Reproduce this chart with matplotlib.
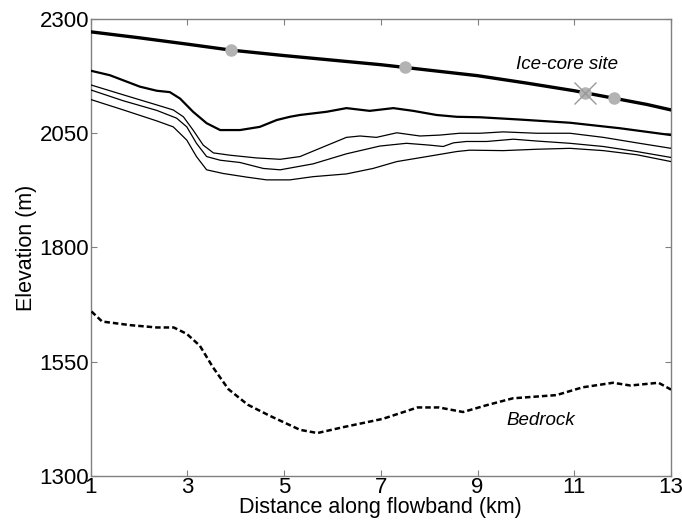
import matplotlib
matplotlib.use("Agg")
import matplotlib.pyplot as plt

plt.rcParams['font.family'] = ['Liberation Sans', 'DejaVu Sans']

# Surface elevation
surf_x = [1, 2, 3, 3.9, 5, 6, 7, 7.5, 8, 9, 10, 11, 11.2, 11.8, 12.5, 13]
surf_y = [2272, 2259, 2245, 2232, 2220, 2210, 2200, 2194, 2188, 2176, 2160, 2143, 2139, 2127, 2113, 2101]

# Layer 1 (thick)
l1_x = [1, 1.4, 2.02, 2.37, 2.64, 2.85, 3.12, 3.40, 3.68, 4.09, 4.50, 4.85, 5.12, 5.33, 5.88, 6.29, 6.77, 7.26, 7.67, 8.15, 8.57, 9.05, 9.87, 10.91, 11.94, 13]
l1_y = [2187, 2177, 2152, 2143, 2140, 2126, 2097, 2072, 2057, 2057, 2064, 2079, 2086, 2090, 2097, 2105, 2099, 2105, 2099, 2090, 2086, 2085, 2080, 2073, 2061, 2046]

# Layer 2
l2_x = [1, 1.68, 2.37, 2.71, 2.92, 3.12, 3.33, 3.54, 3.88, 4.43, 4.92, 5.33, 5.74, 6.29, 6.57, 6.91, 7.33, 7.81, 8.22, 8.63, 9.05, 9.53, 10.22, 10.91, 11.60, 12.29, 13]
l2_y = [2156, 2134, 2112, 2101, 2086, 2057, 2024, 2007, 2002, 1996, 1993, 1999, 2017, 2041, 2044, 2041, 2051, 2044, 2046, 2050, 2050, 2053, 2050, 2050, 2041, 2029, 2017]

# Layer 3
l3_x = [1, 1.68, 2.37, 2.78, 2.99, 3.19, 3.40, 3.68, 4.09, 4.57, 4.92, 5.60, 6.29, 6.98, 7.53, 8.01, 8.29, 8.50, 8.77, 9.19, 9.74, 10.22, 10.91, 11.60, 12.29, 13]
l3_y = [2145, 2121, 2100, 2083, 2064, 2028, 1999, 1991, 1986, 1973, 1970, 1983, 2005, 2022, 2028, 2024, 2021, 2029, 2032, 2032, 2037, 2033, 2028, 2021, 2010, 1997]

# Layer 4
l4_x = [1, 1.68, 2.37, 2.71, 2.99, 3.19, 3.40, 3.74, 4.23, 4.64, 5.12, 5.60, 6.29, 6.84, 7.33, 8.01, 8.57, 8.84, 9.53, 10.22, 10.91, 11.60, 12.29, 13]
l4_y = [2124, 2101, 2077, 2064, 2035, 1999, 1970, 1962, 1954, 1948, 1948, 1955, 1961, 1973, 1988, 2000, 2010, 2013, 2012, 2015, 2017, 2012, 2003, 1988]

# Bedrock
bed_x = [1.02, 1.24, 1.83, 2.37, 2.72, 2.99, 3.26, 3.53, 3.85, 4.25, 4.7, 5.33, 5.69, 6.23, 7.04, 7.76, 8.2, 8.7, 9.19, 9.73, 10.63, 11.17, 11.8, 12.16, 12.74, 13]
bed_y = [1660, 1638, 1630, 1625, 1625, 1611, 1585, 1538, 1490, 1456, 1432, 1401, 1394, 1407, 1425, 1450, 1450, 1440, 1455, 1470, 1477, 1494, 1504, 1498, 1504, 1489]

# Sites on surface
dot_x = [3.9, 7.5, 11.82]
dot_y = [2233, 2195, 2128]
core_x = [11.22]
core_y = [2139]

fig = plt.figure(figsize=(6.82, 5.28), dpi=100)
ax = fig.add_axes([0.1327, 0.0985, 0.8513, 0.8655])

ax.plot(surf_x, surf_y, color='black', lw=2.4, zorder=3)
ax.plot(l1_x, l1_y, color='black', lw=1.6, zorder=3)
for lx, ly in [(l2_x, l2_y), (l3_x, l3_y), (l4_x, l4_y)]:
    ax.plot(lx, ly, color='black', lw=0.9, zorder=3)
ax.plot(bed_x, bed_y, color='black', lw=1.8, ls=(0, (2.2, 1.2)), zorder=3)

ax.plot(dot_x, dot_y, ls='none', marker='o', ms=8, color='#b3b3b3', mec='#b3b3b3', zorder=4)
ax.plot(core_x, core_y, ls='none', marker='o', ms=8, color='#b3b3b3', mec='#b3b3b3', zorder=4)
ax.plot(core_x, core_y, ls='none', marker='x', ms=16, mew=1.0, color='#999999', zorder=5)

ax.text(10.85, 2201, 'Ice-core site', fontsize=13.5, style='italic', ha='center', va='center')
ax.text(10.3, 1421, 'Bedrock', fontsize=13.5, style='italic', ha='center', va='center')

ax.set_xlim(1, 13)
ax.set_ylim(1300, 2300)
ax.set_xticks([1, 3, 5, 7, 9, 11, 13])
ax.set_yticks([1300, 1550, 1800, 2050, 2300])
ax.tick_params(direction='in', length=4, width=0.8, color='#808080', labelsize=16, top=True, right=True, pad=1)
for sp in ax.spines.values():
    sp.set_color('#808080')
    sp.set_linewidth(1.0)
ax.set_xlabel('Distance along flowband (km)', fontsize=15.5, labelpad=-1)
ax.set_ylabel('Elevation (m)', fontsize=15.5, labelpad=2)

fig.savefig('out.png', dpi=100)
